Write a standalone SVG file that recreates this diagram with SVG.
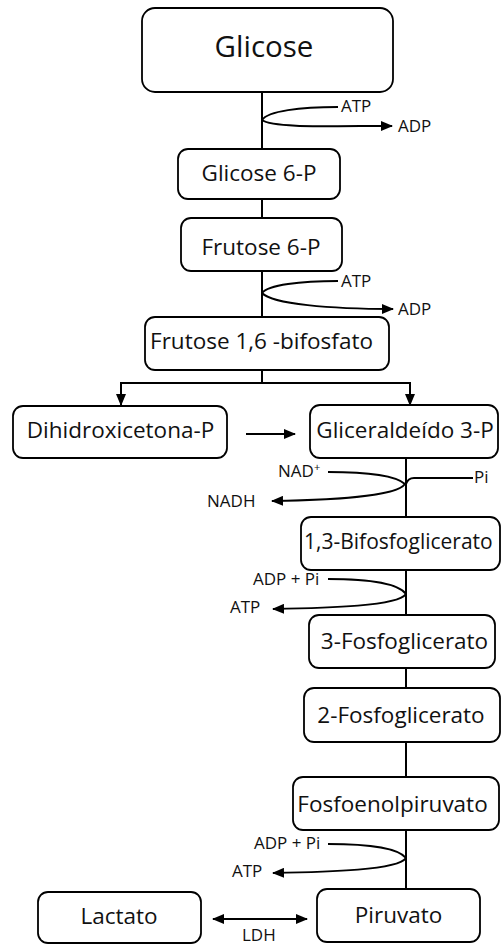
<svg xmlns="http://www.w3.org/2000/svg" width="501" height="945" viewBox="0 0 501 945">
<defs>
<marker id="ah" markerUnits="userSpaceOnUse" markerWidth="12" markerHeight="10" refX="11" refY="5" orient="auto-start-reverse">
<path d="M0,0 L12,5 L0,10 z" fill="#000"/>
</marker>
<style>
.box{fill:#fff;stroke:#000;stroke-width:1.8}
.nt{font-family:"Open Sans","Liberation Sans",sans-serif;font-size:22.5px;fill:#111;text-anchor:middle}
.st{font-family:"Open Sans","Liberation Sans",sans-serif;font-size:17px;fill:#111}
.ln{fill:none;stroke:#000;stroke-width:2}
.ar{fill:none;stroke:#000;stroke-width:2;marker-end:url(#ah)}
</style>
</defs>
<rect width="501" height="945" fill="#fff"/>
<g id="connectors">
<path class="ln" d="M262,92 V148 M262,199 V218 M262,271 V317 M262,370 V383 M121,383 H410"/>
<path class="ar" d="M121,382 V405"/>
<path class="ar" d="M410,382 V405"/>
<path class="ln" d="M406,458 V517 M406,570 V615 M406,668 V688 M406,742 V777 M406,830 V889"/>
<path class="ln" d="M338,107 C300,107 268,111 262,120"/>
<path class="ar" d="M262,120 C272,128 330,126 392,126"/>
<path class="ln" d="M338,281 C300,281 268,285 262,293"/>
<path class="ar" d="M262,293 C272,304 330,309 393,309"/>
<path class="ar" d="M246,434 H295"/>
<path class="ln" d="M328,472 C370,472 396,476 405,484"/>
<path class="ar" d="M405,484 C396,497 330,500 272,501"/>
<path class="ln" d="M473,478 H414 Q408,478 406,484"/>
<path class="ln" d="M328,579 C370,579 398,583 406,594"/>
<path class="ar" d="M406,594 C398,606 330,608 273,609"/>
<path class="ln" d="M328,844 C370,844 398,848 406,858"/>
<path class="ar" d="M406,858 C398,870 330,872 273,873"/>
<path class="ar" d="M213,919 H307" style="marker-start:url(#ah)"/>
</g>
<g id="glicose"><rect class="box" x="142" y="8" width="251" height="84" rx="13"/><text class="nt" x="264" y="57" style="font-size:29.5px">Glicose</text></g>
<g id="glicose6p"><rect class="box" x="178" y="149" width="162" height="50" rx="10"/><text class="nt" x="259" y="181">Glicose 6-P</text></g>
<g id="frutose6p"><rect class="box" x="181" y="218" width="161" height="53" rx="10"/><text class="nt" x="261" y="255">Frutose 6-P</text></g>
<g id="frutose16"><rect class="box" x="145" y="317" width="244" height="53" rx="10"/><text class="nt" x="261.5" y="349">Frutose 1,6 -bifosfato</text></g>
<g id="dhap"><rect class="box" x="13" y="406" width="214" height="52" rx="10"/><text class="nt" x="120.5" y="438">Dihidroxicetona-P</text></g>
<g id="g3p"><rect class="box" x="310" y="405" width="188" height="53" rx="10"/><text class="nt" x="405" y="438">Gliceraldeído 3-P</text></g>
<g id="bpg"><rect class="box" x="301" y="517" width="199" height="53" rx="10"/><text class="nt" x="304" y="549" style="text-anchor:start;font-size:21px">1,3-Bifosfoglicerato</text></g>
<g id="pg3"><rect class="box" x="309" y="615" width="186" height="53" rx="10"/><text class="nt" x="404.5" y="649">3-Fosfoglicerato</text></g>
<g id="pg2"><rect class="box" x="304" y="688" width="196" height="54" rx="10"/><text class="nt" x="401" y="723">2-Fosfoglicerato</text></g>
<g id="pep"><rect class="box" x="293" y="777" width="206" height="53" rx="10"/><text class="nt" x="392.5" y="812">Fosfoenolpiruvato</text></g>
<g id="piruvato"><rect class="box" x="317" y="889" width="163" height="53" rx="10"/><text class="nt" x="398.5" y="923">Piruvato</text></g>
<g id="lactato"><rect class="box" x="38" y="892" width="163" height="51" rx="10"/><text class="nt" x="119" y="924">Lactato</text></g>
<g id="labels">
<text class="st" x="341" y="112">ATP</text>
<text class="st" x="398" y="132">ADP</text>
<text class="st" x="341" y="287">ATP</text>
<text class="st" x="398" y="315">ADP</text>
<text class="st" x="278" y="477">NAD<tspan dy="-6" style="font-size:11px">+</tspan></text>
<text class="st" x="207" y="507">NADH</text>
<text class="st" x="474" y="483">Pi</text>
<text class="st" x="253" y="585">ADP + Pi</text>
<text class="st" x="230" y="613">ATP</text>
<text class="st" x="254" y="849">ADP + Pi</text>
<text class="st" x="232" y="877">ATP</text>
<text class="st" x="242" y="941">LDH</text>
</g>
</svg>
